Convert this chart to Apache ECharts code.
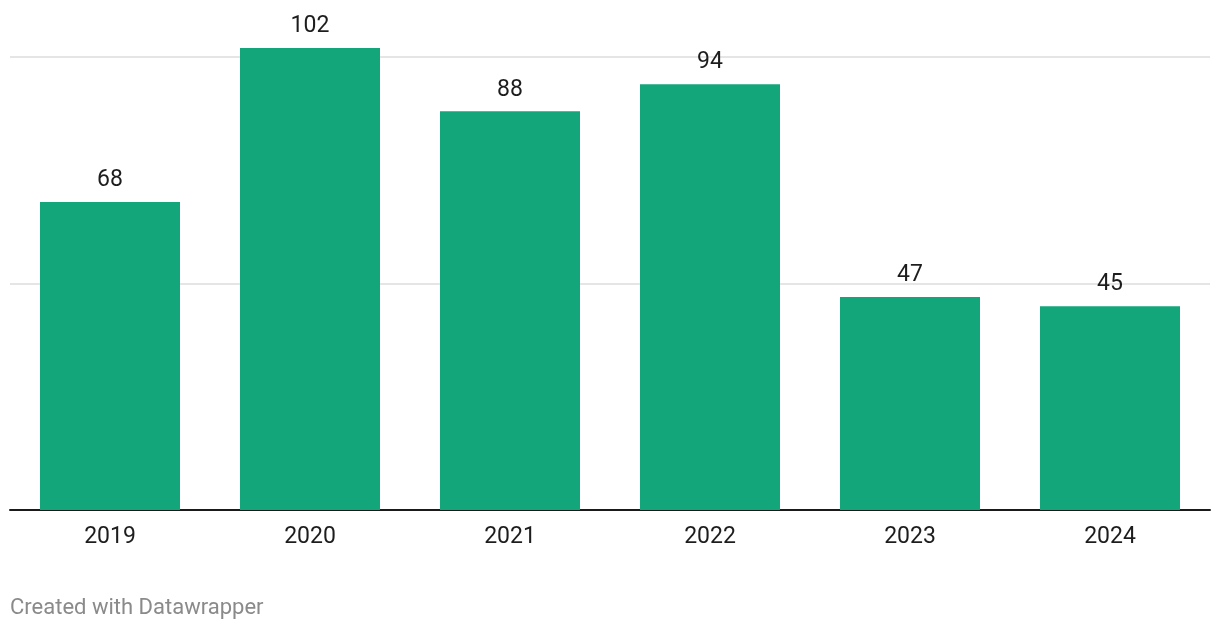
<!DOCTYPE html>
<html>
<head>
<meta charset="utf-8">
<script src="https://cdn.jsdelivr.net/npm/echarts@6/dist/echarts.min.js"></script>
<style>
html,body{margin:0;padding:0;background:#fff;}
#chart{width:1220px;height:630px;}
</style>
</head>
<body>
<div id="chart"></div>
<script>
const categories = ['2019', '2020', '2021', '2022', '2023', '2024'];
const values = [68, 102, 88, 94, 47, 45];
const footerText = 'Created with Datawrapper';

const chart = echarts.init(document.getElementById('chart'), null, {renderer: 'canvas'});
chart.setOption({
  animation: false,
  backgroundColor: '#ffffff',
  textStyle: {fontFamily: 'Roboto'},
  grid: {left: 10, right: 10, top: 57, height: 453, containLabel: false},
  graphic: [{
    type: 'text', left: 10, top: 597,
    style: {text: footerText, fill: '#8a8a8a', font: '22px Roboto'}
  }],
  xAxis: {
    type: 'category',
    data: categories,
    axisLine: {show: true, lineStyle: {color: '#1a1a1a', width: 2}},
    axisTick: {show: false},
    axisLabel: {color: '#1d1d1d', fontSize: 23, margin: 16, fontFamily: 'Roboto'}
  },
  yAxis: {
    type: 'value',
    min: 0, max: 100, interval: 50,
    axisLine: {show: false},
    axisTick: {show: false},
    axisLabel: {show: false},
    splitLine: {show: true, lineStyle: {color: '#e5e5e5', width: 2}}
  },
  series: [{
    type: 'bar',
    data: values,
    clip: false,
    barCategoryGap: '30%',
    itemStyle: {color: '#14a67b'},
    label: {show: true, position: 'top', distance: 10, color: '#1d1d1d', fontSize: 23, fontFamily: 'Roboto'},
    z: 3
  }]
});
</script>
</body>
</html>
